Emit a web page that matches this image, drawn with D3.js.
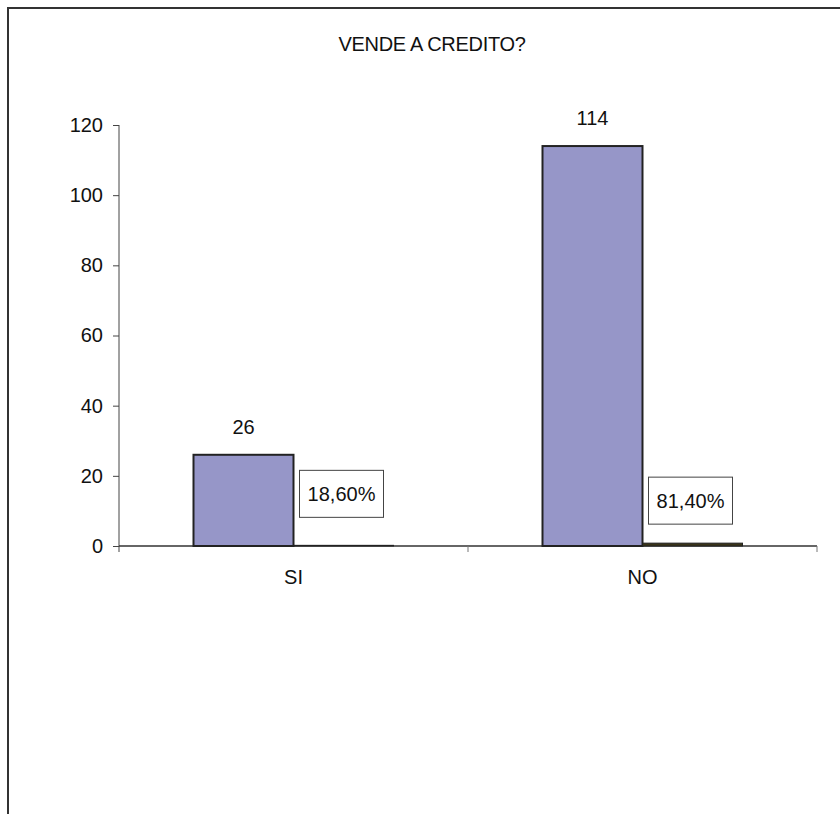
<!DOCTYPE html>
<html>
<head>
<meta charset="utf-8">
<script src="https://cdn.jsdelivr.net/npm/d3@7/dist/d3.min.js"></script>
<style>
  html, body { margin: 0; padding: 0; background: #fff; }
  svg { display: block; }
  text { font-family: "Liberation Sans", Arial, sans-serif; fill: #111; }
</style>
</head>
<body>
<svg id="chart" width="840" height="814"></svg>
<script>
// Survey answers: does the shop sell on credit?
const categories = ["SI", "NO"];
const counts = [26, 114];
const shares = [0.186, 0.814];
const shareLabels = ["18,60%", "81,40%"];
const yTicks = [0, 20, 40, 60, 80, 100, 120];
const title = "VENDE A CREDITO?";

// layout
const W = 840, H = 814;
const plot = { left: 119, right: 817, top: 125, bottom: 546 };
const shareBoxLift = [28, 19];   // how far each percent box sits above its bar

const svg = d3.select("#chart");

// outer frame (left and top edges visible)
svg.append("path")
  .attr("d", `M8,${H} L8,8 L${W},8`)
  .attr("fill", "none")
  .attr("stroke", "#333")
  .attr("stroke-width", 2);

svg.append("text")
  .attr("x", 432).attr("y", 51)
  .attr("text-anchor", "middle")
  .style("font-size", "20px")
  .style("letter-spacing", "-0.3px")
  .text(title);

const y = d3.scaleLinear().domain([0, 120]).range([plot.bottom, plot.top]);
const x = d3.scaleBand().domain(categories).range([plot.left, plot.right]).padding(0);
const series = ["count", "share"];
const xs = d3.scaleBand().domain(series).range([0, x.bandwidth()])
  .paddingInner(0).paddingOuter(0.745);

// y axis
const yAxis = svg.append("g")
  .attr("transform", `translate(${plot.left},0)`)
  .call(d3.axisLeft(y).tickValues(yTicks).tickSize(6).tickPadding(10).tickSizeOuter(0));
yAxis.select(".domain").attr("stroke", "#444").attr("d", `M0,${plot.top}V${plot.bottom + 6}`);
yAxis.selectAll(".tick line").attr("stroke", "#444");
yAxis.selectAll(".tick text").style("font-size", "20px").attr("fill", "#111");

// x axis: baseline with ticks at category boundaries
const xAxisG = svg.append("g").attr("transform", `translate(0,${plot.bottom})`);
xAxisG.append("line")
  .attr("x1", plot.left).attr("x2", plot.right)
  .attr("stroke", "#333").attr("stroke-width", 1.5);
const bounds = categories.map(c => x(c) + x.bandwidth());
xAxisG.selectAll(".bt").data(bounds).join("line")
  .attr("x1", d => d).attr("x2", d => d)
  .attr("y1", 0).attr("y2", 6)
  .attr("stroke", "#777");
xAxisG.selectAll(".cat").data(categories).join("text")
  .attr("x", d => x(d) + x.bandwidth() / 2)
  .attr("y", 38)
  .attr("text-anchor", "middle")
  .style("font-size", "20px")
  .text(d => d);

// count bars
svg.selectAll(".bar-count").data(categories).join("rect")
  .attr("x", d => x(d) + xs("count"))
  .attr("y", (d, i) => y(counts[i]))
  .attr("width", xs.bandwidth())
  .attr("height", (d, i) => y(0) - y(counts[i]))
  .attr("fill", "#9696C8")
  .attr("stroke", "#222")
  .attr("stroke-width", 2);

// share bars (plotted on the same axis, so they are almost flat)
svg.selectAll(".bar-share").data(categories).join("rect")
  .attr("x", d => x(d) + xs("share"))
  .attr("y", (d, i) => y(shares[i]))
  .attr("width", xs.bandwidth())
  .attr("height", (d, i) => y(0) - y(shares[i]))
  .attr("fill", "#3a3418")
  .attr("stroke", "#222")
  .attr("stroke-width", 1);

// count labels
svg.selectAll(".lbl-count").data(categories).join("text")
  .attr("x", d => x(d) + xs("count") + xs.bandwidth() / 2)
  .attr("y", (d, i) => y(counts[i]) - 21)
  .attr("text-anchor", "middle")
  .style("font-size", "20px")
  .text((d, i) => counts[i]);

// percentage labels in boxes
const boxW = 84, boxH = 47;
const boxes = svg.selectAll(".lbl-share").data(categories).join("g")
  .attr("transform", (d, i) => {
    const cx = x(d) + xs("share") + xs.bandwidth() / 2 - 2;
    const bottom = y(shares[i]) - shareBoxLift[i];
    return `translate(${cx - boxW / 2},${bottom - boxH})`;
  });
boxes.append("rect")
  .attr("width", boxW).attr("height", boxH)
  .attr("fill", "#fff").attr("stroke", "#444").attr("stroke-width", 1);
boxes.append("text")
  .attr("x", boxW / 2).attr("y", boxH / 2 + 7)
  .attr("text-anchor", "middle")
  .style("font-size", "20px")
  .text((d, i) => shareLabels[i]);
</script>
</body>
</html>
